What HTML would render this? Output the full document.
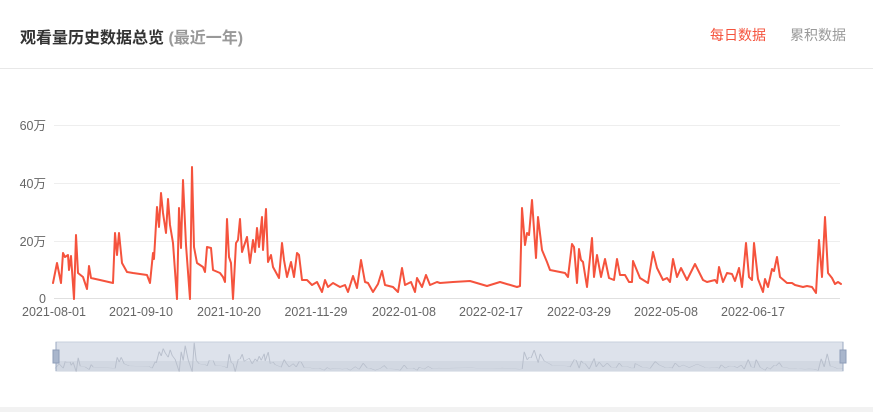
<!DOCTYPE html>
<html><head><meta charset="utf-8"><style>
body{margin:0;width:873px;height:412px;background:#fff;overflow:hidden;font-family:"Liberation Sans","Noto Sans CJK SC",sans-serif;position:relative}
.t{position:absolute;left:20px;top:24px;font-size:16px;font-weight:bold;color:#333}
.t span{color:#999}
.r1{position:absolute;left:710px;top:25px;font-size:14px;color:#f5533d}
.r2{position:absolute;left:790px;top:25px;font-size:14px;color:#999}
.hr{position:absolute;left:0;top:68px;width:873px;height:1px;background:#e8e8e8}
.bt{position:absolute;left:0;top:407px;width:873px;height:5px;background:#f2f2f2}
</style></head><body>
<div class="t">观看量历史数据总览 <span>(最近一年)</span></div>
<div class="r1">每日数据</div><div class="r2">累积数据</div>
<div class="hr"></div>
<svg width="873" height="412" style="position:absolute;left:0;top:0" font-family="Liberation Sans, Noto Sans CJK SC, sans-serif">
<defs><polyline id="d" points="53,283 57,263 61,283 63,253 65,257 68,255 69,270 71,256 74,299 76,235 78,273 83,277 87,289 89,266 91,278 100,280 113,283 115,233 117,255 119,233 122,263 127,272 133,273 147,275 150,283 153,253 154,259 157,207 159,227 161,193 163,213 166,233 168,199 170,225 173,243 177,299 179,208 181,248 183,180 186,245 190,299 192,167 194,247 197,263 203,267 205,272 207,247 211,248 213,270 220,273 223,277 225,282 227,219 229,257 231,263 233,299 236,243 238,240 240,219 242,252 247,237 250,263 253,240 255,252 257,228 259,247 262,217 263,250 266,209 268,262 271,255 273,267 279,278 282,243 284,260 287,277 291,262 294,277 297,253 299,255 302,280 307,280 312,285 317,282 322,292 325,280 328,287 333,283 340,287 345,285 348,292 353,276 357,288 361,260 365,282 368,283 373,292 378,284 382,271 385,285 393,287 398,292 402,268 405,285 411,282 415,292 417,278 422,287 426,275 430,285 437,282 440,283 453,282 470,281 487,286 500,282 517,287 520,286 522,208 525,245 527,233 529,235 532,200 536,258 538,217 542,250 547,262 550,270 565,273 568,277 572,244 574,247 577,283 579,249 581,260 583,262 587,287 592,238 594,277 597,255 601,277 605,259 609,278 614,280 617,259 620,275 625,275 629,282 632,282 633,261 640,278 648,283 653,252 657,268 663,280 667,278 670,282 673,259 677,277 681,268 687,280 695,264 703,280 707,282 715,280 717,283 719,267 723,282 727,273 732,274 735,281 739,268 742,287 746,243 749,277 752,280 754,243 758,279 763,292 765,279 768,287 772,269 774,271 777,257 780,277 787,283 792,283 795,285 803,287 807,286 812,287 816,293 819,240 822,277 825,217 828,273 832,278 835,284 838,282 841,284"/></defs>
<g stroke="#eeeeee" stroke-width="1">
<line x1="54" y1="125.5" x2="840" y2="125.5"/><line x1="54" y1="183.5" x2="840" y2="183.5"/><line x1="54" y1="241.5" x2="840" y2="241.5"/></g>
<line x1="54" y1="298.5" x2="840" y2="298.5" stroke="#e0e0e0"/>
<g font-size="12.5" fill="#666" text-anchor="end">
<text x="46" y="130">60万</text><text x="46" y="188">40万</text><text x="46" y="246">20万</text><text x="46" y="303">0</text></g>
<g font-size="12.5" fill="#666" text-anchor="middle">
<text x="54" y="316">2021-08-01</text><text x="141" y="316">2021-09-10</text><text x="229" y="316">2021-10-20</text><text x="316" y="316">2021-11-29</text><text x="404" y="316">2022-01-08</text><text x="491" y="316">2022-02-17</text><text x="579" y="316">2022-03-29</text><text x="666" y="316">2022-05-08</text><text x="753" y="316">2022-06-17</text></g>
<use href="#d" fill="none" stroke="#f5533d" stroke-width="2" stroke-linejoin="round" stroke-linecap="round"/>
<rect x="56" y="342" width="787" height="29" fill="#dde2eb" stroke="#c8d0dc"/>
<rect x="56" y="361" width="787" height="10" fill="#d2d8e2"/>
<g transform="translate(2.2,306) scale(1,0.22)"><use href="#d" fill="none" stroke="#b8bfcc" stroke-width="1" vector-effect="non-scaling-stroke"/></g>
<line x1="56" y1="342" x2="56" y2="371" stroke="#9aa8c0"/><line x1="843" y1="342" x2="843" y2="371" stroke="#9aa8c0"/>
<rect x="53" y="350" width="6" height="13" fill="#a9b6cc" stroke="#8e9db8"/>
<rect x="840" y="350" width="6" height="13" fill="#a9b6cc" stroke="#8e9db8"/>
</svg>
<div class="bt"></div>
</body></html>
